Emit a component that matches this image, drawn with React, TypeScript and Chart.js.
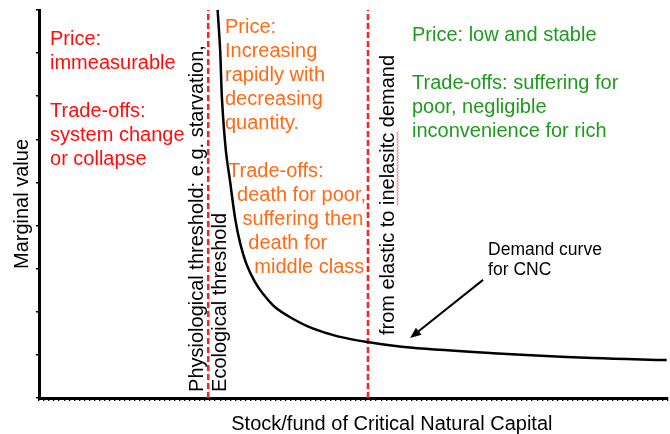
import React, { useEffect, useRef } from "react";
import { Chart, registerables } from "chart.js";

Chart.register(...registerables);

// ---- data ----
const stockX = [28.4, 28.8, 29.1, 29.7, 30.4, 31.2, 32.0, 33.0, 34.3, 35.6, 37.5, 40.2, 43.4, 47.5, 52.2, 59.0, 72.2, 88.1, 99.8];
const marginalValue = [9.0, 8.07, 6.91, 5.75, 5.0, 4.15, 3.58, 3.1, 2.7, 2.42, 2.11, 1.85, 1.62, 1.43, 1.3, 1.17, 1.04, 0.93, 0.88];
const thresholdX = [26.9, 52.3];

const xTitle = "Stock/fund of Critical Natural Capital";
const yTitle = "Marginal value";

const redLines = ["Price:", "immeasurable", "", "Trade-offs:", "system change", "or collapse"];
const orangeLines = ["Price:", "Increasing", "rapidly with", "decreasing", "quantity.", "", "Trade-offs:", "death for poor,", "suffering then", "death for", "middle class"];
const orangeIndentX = [29.57, 29.57, 29.57, 29.57, 29.57, 29.57, 30.05, 31.48, 32.35, 33.28, 34.23];
const greenLines = ["Price: low and stable", "", "Trade-offs: suffering for", "poor, negligible", "inconvenience for rich"];
const thresholdLabels = ["Physiological threshold: e.g. starvation,", "Ecological threshold"];
const elasticityLabel = ["from elastic to ", "inelasitc", " demand"];
const curveLabel = ["Demand curve", "for CNC"];

const FAMILY = '"Liberation Sans", Arial, Helvetica, sans-serif';
const RED = "#ff0d0d";
const ORANGE = "#ff6a16";
const GREEN = "#1f9a1f";

const annotationPlugin = {
  id: "annotations",
  afterDatasetsDraw(chart: any) {
    const { ctx, chartArea } = chart;
    const xs = chart.scales.x;
    const ys = chart.scales.y;
    const px = (v: number) => xs.getPixelForValue(v);
    const py = (v: number) => ys.getPixelForValue(v);
    const step = 24;

    ctx.save();
    ctx.textAlign = "left";
    ctx.textBaseline = "alphabetic";
    ctx.font = `20px ${FAMILY}`;

    // red block
    ctx.fillStyle = RED;
    redLines.forEach((t, i) => ctx.fillText(t, px(1.75), py(8.19) + i * step));

    // orange block
    ctx.fillStyle = ORANGE;
    orangeLines.forEach((t, i) => ctx.fillText(t, px(orangeIndentX[i]), py(8.47) + i * step));

    // green block
    ctx.fillStyle = GREEN;
    greenLines.forEach((t, i) => ctx.fillText(t, px(59.3), py(8.28) + i * step));

    // vertical labels
    ctx.fillStyle = "#000";
    const rotText = (t: string, bx: number, by: number) => {
      ctx.save();
      ctx.translate(bx, by);
      ctx.rotate(-Math.PI / 2);
      ctx.fillText(t, 0, 0);
      ctx.restore();
    };
    rotText(thresholdLabels[0], px(26.04), py(0.14));
    rotText(thresholdLabels[1], px(29.73), py(0.14));
    const elX = px(56.44);
    const elY = py(1.46);
    rotText(elasticityLabel.join(""), elX, elY);

    // spell-check squiggle under "inelasitc"
    const pre = ctx.measureText(elasticityLabel[0]).width;
    const wlen = ctx.measureText(elasticityLabel[1]).width;
    ctx.strokeStyle = "rgba(255,70,70,0.85)";
    ctx.lineWidth = 1;
    ctx.beginPath();
    let yy = elY - pre;
    const yEnd = elY - pre - wlen;
    let k = 0;
    ctx.moveTo(elX + 3, yy);
    while (yy > yEnd) {
      yy -= 1.5;
      k++;
      ctx.lineTo(elX + 3 + (k % 2 ? 1.2 : -0.2), yy);
    }
    ctx.stroke();

    // x axis title
    ctx.textAlign = "center";
    ctx.fillText(xTitle, px(56.1), chartArea.bottom + 32);

    // demand curve label
    ctx.textAlign = "left";
    ctx.font = `17.5px ${FAMILY}`;
    ctx.fillText(curveLabel[0], px(71.4), py(3.32));
    ctx.fillText(curveLabel[1], px(71.4), py(3.32) + 20);

    // arrow
    const ax0 = px(70.6), ay0 = py(2.74), ax1 = px(59.0), ay1 = py(1.39);
    const ang = Math.atan2(ay1 - ay0, ax1 - ax0);
    const head = 11;
    ctx.strokeStyle = "#000";
    ctx.lineWidth = 2;
    ctx.beginPath();
    ctx.moveTo(ax0, ay0);
    ctx.lineTo(ax1 - Math.cos(ang) * head * 0.8, ay1 - Math.sin(ang) * head * 0.8);
    ctx.stroke();
    ctx.fillStyle = "#000";
    ctx.beginPath();
    ctx.moveTo(ax1, ay1);
    ctx.lineTo(ax1 - head * Math.cos(ang) + 4.5 * Math.sin(ang), ay1 - head * Math.sin(ang) - 4.5 * Math.cos(ang));
    ctx.lineTo(ax1 - head * Math.cos(ang) - 4.5 * Math.sin(ang), ay1 - head * Math.sin(ang) + 4.5 * Math.cos(ang));
    ctx.closePath();
    ctx.fill();

    ctx.restore();
  },
};

export default function App() {
  const canvasRef = useRef<HTMLCanvasElement | null>(null);

  useEffect(() => {
    if (!canvasRef.current) return;
    const curve = stockX.map((x, i) => ({ x, y: marginalValue[i] }));
    const thresholdSets = thresholdX.map((t) => ({
      data: [
        { x: t, y: 0 },
        { x: t, y: 9 },
      ],
      borderColor: "#ff2020",
      borderWidth: 2.5,
      borderDash: [6, 3],
      pointRadius: 0,
      fill: false,
    }));
    const chart = new Chart(canvasRef.current, {
      type: "line",
      data: {
        datasets: [
          {
            data: curve,
            borderColor: "#000",
            borderWidth: 2.5,
            pointRadius: 0,
            fill: false,
            tension: 0.35,
          },
          ...thresholdSets,
        ] as any,
      },
      options: {
        animation: false,
        responsive: false,
        devicePixelRatio: 1,
        layout: { padding: { top: 10, right: 2, left: 0, bottom: 0 } },
        plugins: { legend: { display: false }, tooltip: { enabled: false } },
        scales: {
          x: {
            type: "linear",
            min: 0,
            max: 100,
            border: { color: "#000", width: 3 },
            grid: { drawOnChartArea: false, color: "#000", tickLength: 3, lineWidth: 1.3 },
            ticks: { display: false, stepSize: 0.8, autoSkip: false },
            afterFit: (s: any) => {
              s.height = 36;
            },
          },
          y: {
            type: "linear",
            min: 0,
            max: 9,
            border: { color: "#000", width: 3 },
            grid: { drawOnChartArea: false, color: "#000", tickLength: 3, lineWidth: 1.5 },
            ticks: { display: false, stepSize: 1 },
            title: {
              display: true,
              text: yTitle,
              color: "#000",
              font: { family: FAMILY, size: 20, weight: "normal" },
              padding: { top: 10, bottom: 0 },
            },
            afterFit: (s: any) => {
              s.width = 39;
            },
          },
        },
      } as any,
      plugins: [annotationPlugin],
    });
    return () => chart.destroy();
  }, []);

  return (
    <div style={{ position: "fixed", left: 0, top: 0, width: 670, height: 434, background: "#fff" }}>
      <canvas ref={canvasRef} width={670} height={434} />
    </div>
  );
}
